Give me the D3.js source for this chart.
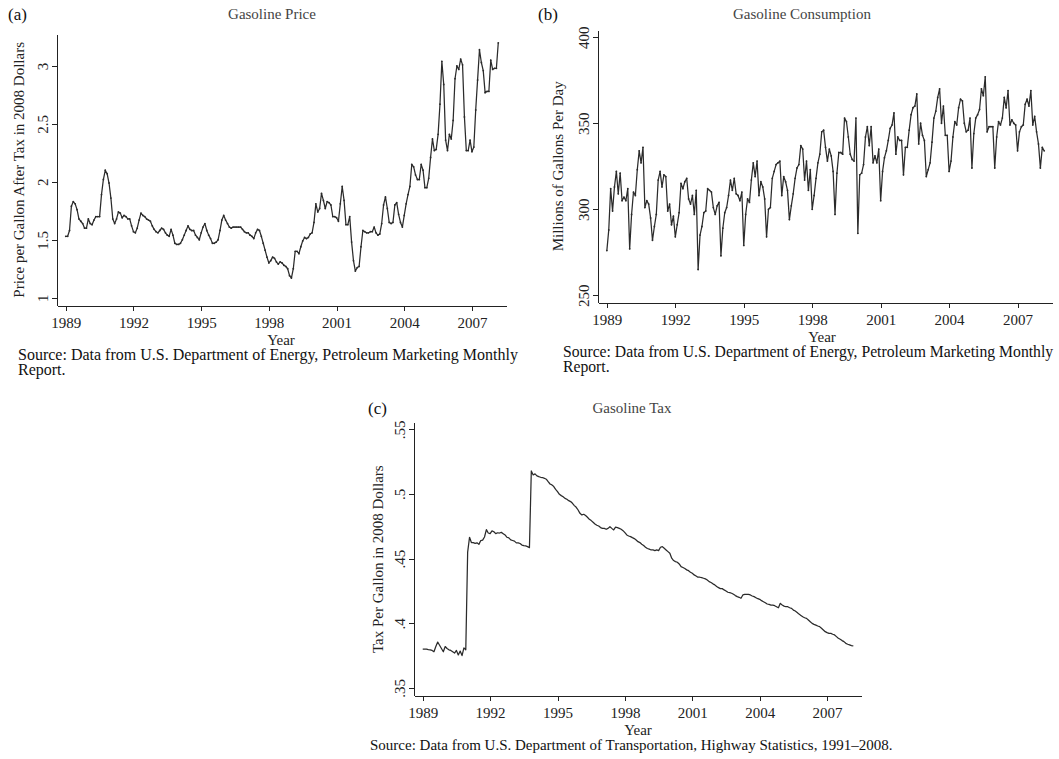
<!DOCTYPE html>
<html>
<head>
<meta charset="utf-8">
<script src="https://cdnjs.cloudflare.com/ajax/libs/d3/7.8.5/d3.min.js"></script>
<style>
body { margin: 0; background: #fff; }
svg { display: block; font-family: "Liberation Serif", "Times New Roman", serif; }
.axis path, .axis line { stroke: #222; stroke-width: 1; shape-rendering: crispEdges; }
.axis text { fill: #222; font-size: 15px; font-family: "Liberation Serif", serif; }
</style>
</head>
<body>
<svg id="chart" width="1059" height="759"></svg>
<script>
//****************************************************************************************************************************//
// Data (monthly, Jan 1989 - Mar 2008)

var startYear = 1989;
var yearTicks = [1989, 1992, 1995, 1998, 2001, 2004, 2007];
var priceTicks = [1, 1.5, 2, 2.5, 3];
var consumptionTicks = [250, 300, 350, 400];
var taxTicks = [0.35, 0.4, 0.45, 0.5, 0.55];

var price = [
	1.53,1.53,1.58,1.79,1.83,1.81,1.76,1.68,1.66,1.64,1.60,1.60,
	1.68,1.64,1.63,1.67,1.70,1.70,1.70,1.89,2.02,2.10,2.07,1.99,
	1.86,1.68,1.64,1.68,1.74,1.73,1.69,1.71,1.70,1.68,1.68,1.62,
	1.57,1.56,1.60,1.67,1.73,1.71,1.70,1.68,1.67,1.66,1.62,1.59,
	1.57,1.56,1.58,1.60,1.59,1.56,1.54,1.53,1.59,1.54,1.47,1.46,
	1.46,1.47,1.50,1.54,1.58,1.62,1.59,1.58,1.58,1.54,1.52,1.50,
	1.56,1.61,1.64,1.58,1.54,1.51,1.47,1.47,1.48,1.50,1.58,1.67,
	1.71,1.67,1.64,1.61,1.60,1.61,1.61,1.61,1.61,1.61,1.59,1.57,
	1.56,1.56,1.54,1.53,1.51,1.56,1.59,1.58,1.53,1.47,1.41,1.35,
	1.30,1.32,1.35,1.34,1.31,1.29,1.31,1.30,1.28,1.27,1.25,1.19,
	1.17,1.25,1.40,1.40,1.38,1.44,1.49,1.52,1.51,1.52,1.55,1.56,
	1.65,1.81,1.74,1.77,1.90,1.84,1.77,1.83,1.82,1.80,1.70,1.70,
	1.69,1.66,1.81,1.96,1.84,1.63,1.63,1.70,1.48,1.32,1.23,1.26,
	1.27,1.44,1.58,1.57,1.56,1.56,1.57,1.57,1.61,1.56,1.54,1.55,
	1.64,1.80,1.87,1.77,1.65,1.64,1.65,1.80,1.82,1.72,1.65,1.61,
	1.71,1.81,1.89,1.96,2.15,2.13,2.06,2.02,2.02,2.15,2.10,1.95,
	1.95,2.03,2.21,2.37,2.27,2.28,2.41,2.67,3.04,2.84,2.36,2.27,
	2.41,2.37,2.53,2.89,3.00,2.97,3.06,3.01,2.56,2.27,2.27,2.36,
	2.26,2.30,2.62,2.88,3.14,3.03,2.96,2.77,2.78,2.78,3.05,2.97,
	2.98,2.98,3.20
];

var consumption = [
	276,288,312,299,313,322,309,321,305,307,305,312,
	277,297,310,308,323,334,327,336,301,305,303,295,
	282,290,297,317,322,313,320,319,299,303,291,296,
	284,291,298,315,312,316,318,306,303,308,297,311,
	265,285,290,298,299,312,311,310,301,297,302,304,
	273,289,298,301,308,317,311,318,309,308,305,310,
	279,297,306,304,317,327,319,328,308,316,313,306,
	284,300,301,318,322,326,327,328,308,319,316,311,
	294,302,309,318,324,326,337,335,317,328,311,323,
	300,308,318,327,332,345,346,336,328,335,331,322,
	297,321,333,333,332,353,351,342,332,329,328,353,
	286,320,321,326,342,348,337,348,327,331,327,335,
	305,322,330,334,340,347,349,356,332,342,340,340,
	320,336,336,346,355,359,360,367,338,350,343,340,
	319,323,327,339,353,357,365,370,350,360,343,343,
	322,328,342,351,349,359,364,363,350,345,346,353,
	324,344,353,355,358,370,366,377,345,348,348,348,
	324,342,351,349,353,365,359,369,349,352,350,349,
	334,345,348,349,361,364,360,369,349,354,345,338,
	324,336,334
];

var tax = [
	.3800,.3800,.3800,.3796,.3795,.3790,.3780,.3820,.3855,.3830,.3805,.3780,
	.3820,.3805,.3795,.3790,.3780,.3770,.3790,.3755,.3785,.3750,.3810,.3795,
	.4550,.4665,.4624,.4624,.4618,.4622,.4610,.4640,.4643,.4667,.4724,.4698,
	.4693,.4715,.4708,.4693,.4700,.4698,.4703,.4693,.4683,.4665,.4660,.4645,
	.4640,.4635,.4622,.4622,.4617,.4605,.4600,.4598,.4593,.4585,.5178,.5147,
	.5155,.5140,.5134,.5129,.5127,.5121,.5114,.5095,.5077,.5070,.5057,.5036,
	.5018,.4997,.4987,.4979,.4966,.4959,.4948,.4941,.4928,.4910,.4897,.4876,
	.4850,.4838,.4843,.4833,.4820,.4804,.4794,.4781,.4768,.4758,.4752,.4740,
	.4734,.4734,.4727,.4734,.4747,.4734,.4722,.4743,.4740,.4734,.4727,.4716,
	.4701,.4683,.4675,.4670,.4662,.4655,.4644,.4631,.4624,.4611,.4601,.4588,
	.4578,.4573,.4567,.4567,.4562,.4567,.4562,.4588,.4593,.4580,.4567,.4554,
	.4541,.4503,.4485,.4477,.4472,.4459,.4438,.4431,.4423,.4413,.4407,.4395,
	.4387,.4374,.4366,.4356,.4356,.4353,.4348,.4343,.4335,.4322,.4315,.4305,
	.4297,.4284,.4276,.4268,.4268,.4258,.4250,.4240,.4237,.4232,.4224,.4214,
	.4206,.4201,.4193,.4219,.4224,.4224,.4224,.4219,.4211,.4206,.4198,.4190,
	.4185,.4175,.4167,.4159,.4149,.4146,.4141,.4141,.4136,.4128,.4120,.4154,
	.4141,.4133,.4128,.4128,.4120,.4115,.4102,.4095,.4084,.4071,.4061,.4051,
	.4043,.4038,.4025,.4012,.3999,.3992,.3986,.3979,.3974,.3961,.3948,.3935,
	.3928,.3922,.3922,.3915,.3910,.3897,.3884,.3876,.3866,.3858,.3845,.3838,
	.3833,.3827,.3825
];

var canvas = d3.select("#chart");
var lineColour = "#2b2b2b";

//****************************************************************************************************************************//
// Panel Function

function drawPanel(p){

	var x = d3.scaleLinear()
				.domain([1988.625, 2008.54])
				.range([p.left, p.right]);

	var y = d3.scaleLinear()
				.domain(p.yDomain)
				.range([p.bottom, p.top]);

	// x Axis
	var xAxis = d3.axisBottom(x)
				.tickValues(yearTicks)
				.tickFormat(d3.format("d"))
				.tickSize(5)
				.tickSizeOuter(0)
				.tickPadding(7);

	canvas.append("g")
			.attr("class", "axis")
			.attr("transform", "translate(0," +p.bottom+ ")")
			.call(xAxis)
			.selectAll(".tick text")
			.attr("dy", "0.71em");

	// y Axis
	var yAxis = d3.axisLeft(y)
				.tickValues(p.yTicks)
				.tickFormat(p.yFormat)
				.tickSize(5)
				.tickSizeOuter(0);

	canvas.append("g")
			.attr("class", "axis")
			.attr("transform", "translate(" +p.left+ ",0)")
			.call(yAxis)
			.selectAll(".tick text")
			.attr("x", null)
			.attr("text-anchor", "middle")
			.attr("dy", "0.35em")
			.attr("transform", "translate(-15,0) rotate(-90)");

	// Series
	var line = d3.line()
				.x(function(d, i){ return x(startYear + i/12); })
				.y(function(d){ return y(d); });

	canvas.append("path")
			.datum(p.values)
			.attr("fill", "none")
			.attr("stroke", lineColour)
			.attr("stroke-width", 1.25)
			.attr("stroke-linejoin", "round")
			.attr("d", line);

	if(p.markers){
		canvas.append("g")
				.selectAll("circle")
				.data(p.values)
				.enter()
				.append("circle")
				.attr("cx", function(d, i){ return x(startYear + i/12); })
				.attr("cy", function(d){ return y(d); })
				.attr("r", 0.9)
				.attr("fill", lineColour);
	}

	// Labels
	canvas.append("text")
			.attr("x", p.letterX)
			.attr("y", p.titleY + 1)
			.style("font-size", "17px")
			.attr("fill", "#111")
			.text(p.letter);

	canvas.append("text")
			.attr("x", p.titleX)
			.attr("y", p.titleY)
			.attr("text-anchor", "middle")
			.style("font-size", "15px")
			.attr("fill", "#444")
			.text(p.title);

	canvas.append("text")
			.attr("transform", "translate(" +p.yLabelX+ "," +((p.top + p.bottom)/2)+ ") rotate(-90)")
			.attr("text-anchor", "middle")
			.attr("dy", "0.35em")
			.style("font-size", "15px")
			.attr("fill", "#222")
			.text(p.yLabel);

	canvas.append("text")
			.attr("x", p.yearX)
			.attr("y", p.bottom + 39)
			.attr("text-anchor", "middle")
			.style("font-size", "15px")
			.attr("fill", "#222")
			.text("Year");

	p.source.forEach(function(s, i){
		canvas.append("text")
				.attr("x", p.sourceX)
				.attr("y", p.bottom + 54 + i*15)
				.style("font-size", p.sourceSize)
				.attr("fill", "#111")
				.text(s);
	});
}

//****************************************************************************************************************************//
// Panels

var energySource = ["Source: Data from U.S. Department of Energy, Petroleum Marketing Monthly", "Report."];

drawPanel({
	left: 57.3, right: 506.7, top: 34, bottom: 305.7,
	yDomain: [0.931, 3.276], yTicks: priceTicks,
	yFormat: function(d){ return String(d); },
	values: price, markers: true,
	letter: "(a)", letterX: 8, title: "Gasoline Price", titleX: 272, titleY: 19,
	yLabel: "Price per Gallon After Tax in 2008 Dollars", yLabelX: 19,
	yearX: 281, sourceX: 18, sourceSize: "16px", source: energySource
});

drawPanel({
	left: 598.3, right: 1052.7, top: 30, bottom: 302.7,
	yDomain: [245.7, 404.2], yTicks: consumptionTicks,
	yFormat: function(d){ return String(d); },
	values: consumption, markers: true,
	letter: "(b)", letterX: 538, title: "Gasoline Consumption", titleX: 802, titleY: 19,
	yLabel: "Millions of Gallons Per Day", yLabelX: 558,
	yearX: 822, sourceX: 563, sourceSize: "15.7px", source: energySource
});

drawPanel({
	left: 414.3, right: 861.7, top: 422.7, bottom: 695.7,
	yDomain: [0.344, 0.5551], yTicks: taxTicks,
	yFormat: function(d){ return String(d).replace(/^0/, ""); },
	values: tax, markers: false,
	letter: "(c)", letterX: 368, title: "Gasoline Tax", titleX: 632, titleY: 413,
	yLabel: "Tax Per Gallon in 2008 Dollars", yLabelX: 378,
	yearX: 638, sourceX: 370, sourceSize: "15px",
	source: ["Source: Data from U.S. Department of Transportation, Highway Statistics, 1991\u20132008."]
});

</script>
</body>
</html>
